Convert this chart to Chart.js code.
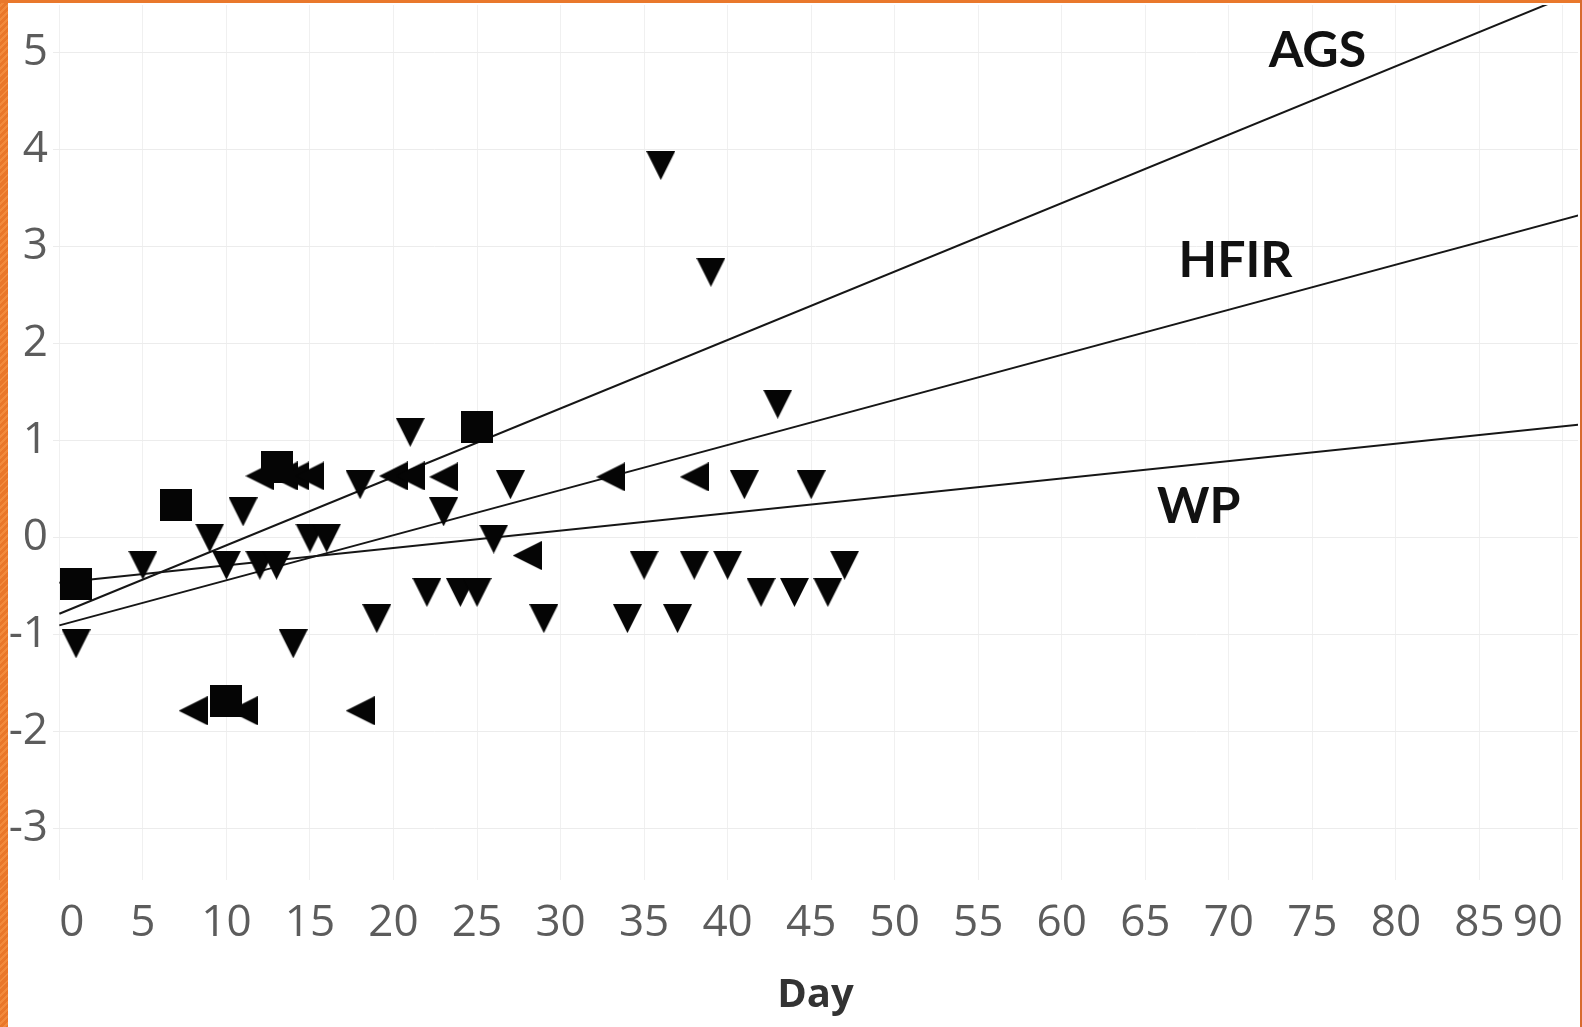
<!DOCTYPE html>
<html>
<head>
<meta charset="utf-8">
<title>Day trend</title>
<script src="https://cdn.jsdelivr.net/npm/chart.js@4.4.1/dist/chart.umd.min.js"></script>
<style>
  html, body { margin: 0; padding: 0; background: #fff; overflow: hidden; }
  #frame { position: relative; width: 1582px; height: 1027px; background: #fff; }
  #chart { position: absolute; left: 8px; top: 3px; }
  .edge-left { position: absolute; left: 0; top: 0; width: 8px; height: 1027px;
    background: repeating-linear-gradient(135deg, #e9772a 0 3px, #f28a3c 3px 5px); }
  .edge-top { position: absolute; left: 0; top: 0; width: 1582px; height: 3px; background: #e9782c; }
  .edge-right { position: absolute; right: 0; top: 0; width: 2px; height: 1027px; background: #d86a2e; }
</style>
</head>
<body>
<div id="frame">
  <canvas id="chart" width="1572" height="1024"></canvas>
  <div class="edge-left"></div>
  <div class="edge-top"></div>
  <div class="edge-right"></div>
</div>
<script>
// AGS samples (squares)
const agsDays   = [1, 7, 10, 13, 25];
const agsValues = [-0.48, 0.33, -1.69, 0.72, 1.13];

// HFIR samples (left-pointing triangles)
const hfirDays   = [8, 11, 12, 13.4, 14.1, 15, 18, 20, 21, 23, 28, 33, 38];
const hfirValues = [-1.79, -1.79, 0.63, 0.63, 0.63, 0.63, -1.79, 0.63, 0.63, 0.62, -0.19, 0.62, 0.62];

// WP samples (down-pointing triangles)
const wpDays   = [1, 5, 9, 10, 11, 12, 13, 14, 15, 16, 18, 19, 21, 22, 23, 24, 25, 26, 27, 29,
                  34, 35, 36, 37, 38, 39, 40, 41, 42, 43, 44, 45, 46, 47];
const wpValues = [-1.1, -0.29, -0.01, -0.29, 0.26, -0.29, -0.29, -1.1, -0.01, -0.01, 0.54, -0.84, 1.08, -0.57, 0.26, -0.57, -0.57, -0.02, 0.54, -0.84,
                  -0.84, -0.29, 3.83, -0.84, -0.29, 2.73, -0.29, 0.54, -0.57, 1.37, -0.57, 0.54, -0.57, -0.29];

// Linear trend lines, given at the two ends of the day range
const trendDays = [0, 91];
const agsTrend  = [-0.79, 5.63];
const hfirTrend = [-0.91, 3.32];
const wpTrend   = [-0.47, 1.16];

// Line name labels and where they sit (day, value of the text baseline)
const lineNames   = ['AGS', 'HFIR', 'WP'];
const labelDays   = [75.3, 70.4, 68.2];
const labelValues = [4.85, 2.68, 0.15];

// Axis ticks
const dayTicks   = [0, 5, 10, 15, 20, 25, 30, 35, 40, 45, 50, 55, 60, 65, 70, 75, 80, 85, 90];
const valueTicks = [-3, -2, -1, 0, 1, 2, 3, 4, 5];

const toPoints = (xs, ys) => xs.map((x, i) => ({ x: x, y: ys[i] }));

// Solid marker glyphs, centred on their bounding box
function marker(kind, size) {
  const c = document.createElement('canvas');
  c.width = size; c.height = size;
  const g = c.getContext('2d');
  g.fillStyle = '#050505';
  g.beginPath();
  if (kind === 'down') {
    g.moveTo(0, 0); g.lineTo(size, 0); g.lineTo(size / 2, size);
  } else if (kind === 'left') {
    g.moveTo(size, 0); g.lineTo(size, size); g.lineTo(0, size / 2);
  } else {
    g.rect(0, 0, size, size);
  }
  g.closePath();
  g.fill();
  return c;
}

const lineNamePlugin = {
  id: 'lineNames',
  afterDatasetsDraw(chart) {
    const { ctx, scales } = chart;
    ctx.save();
    ctx.font = 'bold 50px Lato';
    ctx.fillStyle = '#111';
    ctx.textAlign = 'center';
    ctx.textBaseline = 'alphabetic';
    lineNames.forEach((name, i) => {
      ctx.fillText(name, scales.x.getPixelForValue(labelDays[i]), scales.y.getPixelForValue(labelValues[i]));
    });
    ctx.restore();
  }
};

function build() {
  const scatterBase = { pointRadius: 15, pointHoverRadius: 15, showLine: false };
  const trendBase = { type: 'line', pointRadius: 0, borderColor: '#161616', borderWidth: 2,
                      fill: false, tension: 0, showLine: true };

  new Chart(document.getElementById('chart'), {
    type: 'scatter',
    data: {
      datasets: [
        Object.assign({ label: 'AGS', data: toPoints(agsDays, agsValues), pointStyle: marker('square', 32) }, scatterBase),
        Object.assign({ label: 'HFIR', data: toPoints(hfirDays, hfirValues), pointStyle: marker('left', 29) }, scatterBase),
        Object.assign({ label: 'WP', data: toPoints(wpDays, wpValues), pointStyle: marker('down', 29) }, scatterBase),
        Object.assign({ label: 'AGS trend', data: toPoints(trendDays, agsTrend) }, trendBase),
        Object.assign({ label: 'HFIR trend', data: toPoints(trendDays, hfirTrend) }, trendBase),
        Object.assign({ label: 'WP trend', data: toPoints(trendDays, wpTrend) }, trendBase)
      ]
    },
    options: {
      responsive: false,
      animation: false,
      devicePixelRatio: 1,
      events: [],
      layout: { autoPadding: false, padding: { top: 2, right: 2, left: 0, bottom: 0 } },
      plugins: { legend: { display: false }, tooltip: { enabled: false } },
      scales: {
        x: {
          type: 'linear',
          min: -0.38,
          max: 90.9,
          afterBuildTicks: s => { s.ticks = dayTicks.map(v => ({ value: v })); },
          afterFit: s => { s.height = 147; s.paddingLeft = 0; s.paddingRight = 0; },
          grid: { color: '#f0f0f0', lineWidth: 1, drawTicks: false },
          border: { display: false },
          ticks: {
            font: { family: '"Open Sans"', size: 44 },
            color: '#5c5c5c',
            padding: 17,
            align: 'inner',
            maxRotation: 0,
            autoSkip: false
          },
          title: {
            display: true,
            text: 'Day',
            font: { family: '"Open Sans"', size: 40, weight: 'bold' },
            color: '#333',
            padding: { top: 0, bottom: 7 }
          }
        },
        y: {
          type: 'linear',
          min: -3.535,
          max: 5.485,
          afterBuildTicks: s => { s.ticks = valueTicks.map(v => ({ value: v })); },
          afterFit: s => { s.width = 45; s.paddingTop = 0; s.paddingBottom = 0; },
          grid: { color: '#ececec', lineWidth: 1, drawTicks: false },
          border: { display: false },
          ticks: {
            font: { family: '"Open Sans"', size: 44 },
            color: '#5c5c5c',
            padding: 5
          }
        }
      }
    },
    plugins: [lineNamePlugin]
  });
}

Promise.all([
  document.fonts.load('44px "Open Sans"'),
  document.fonts.load('bold 40px "Open Sans"'),
  document.fonts.load('bold 50px Lato')
]).then(build, build);
</script>
</body>
</html>
